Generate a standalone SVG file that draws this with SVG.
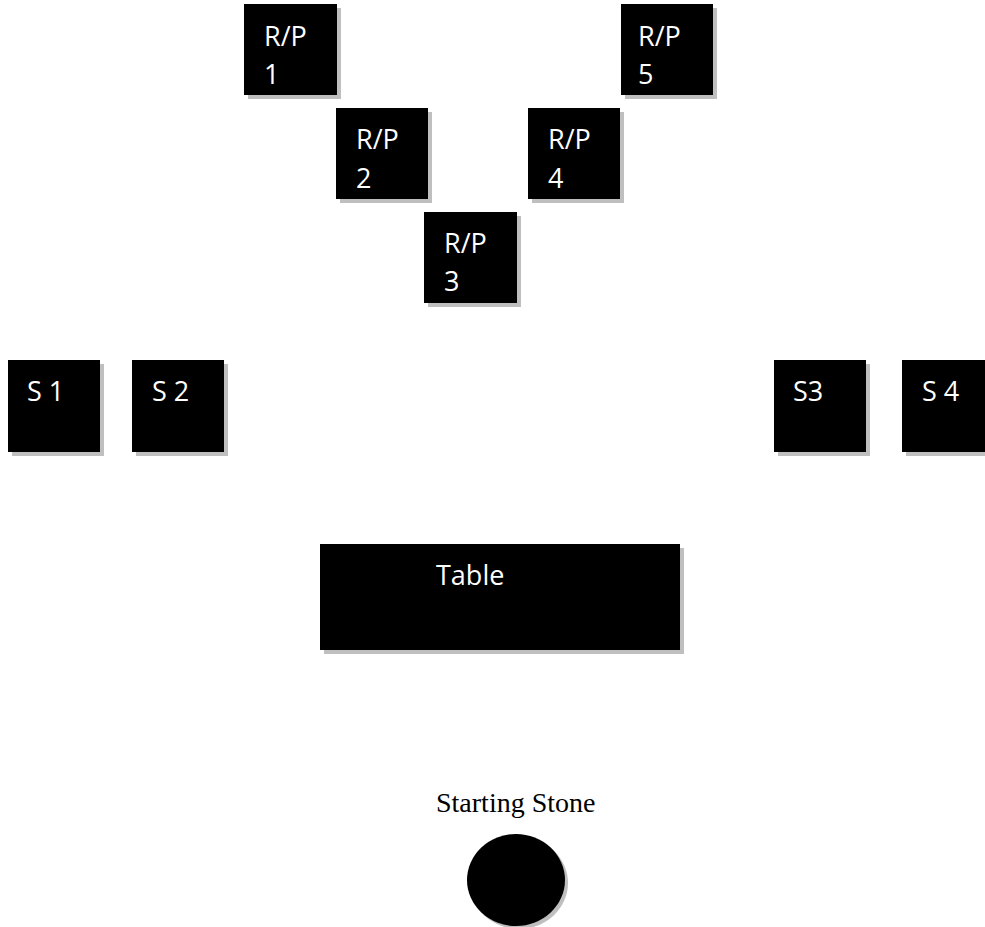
<svg xmlns="http://www.w3.org/2000/svg" width="985" height="927" viewBox="0 0 985 927">
<style>
.sh{fill:#bfbfbf}
.bx{fill:#000}
.t{font-family:"Open Sans","Liberation Sans",sans-serif;font-size:27px;fill:#fff}
.lbl{font-family:"Liberation Serif","Times New Roman",serif;font-size:28px;fill:#000}
</style>
<rect width="985" height="927" fill="#fff"/>
<g id="connectors"></g>
<g id="rp1"><rect class="sh" x="248" y="8" width="93" height="91"/><rect class="bx" x="244" y="4" width="93" height="91"/><text class="t" x="264" y="46">R/P</text><text class="t" x="264" y="84">1</text></g>
<g id="rp2"><rect class="sh" x="340" y="112" width="92" height="91"/><rect class="bx" x="336" y="108" width="92" height="91"/><text class="t" x="356" y="149">R/P</text><text class="t" x="356" y="188">2</text></g>
<g id="rp3"><rect class="sh" x="428" y="216" width="93" height="91"/><rect class="bx" x="424" y="212" width="93" height="91"/><text class="t" x="444" y="253">R/P</text><text class="t" x="444" y="291">3</text></g>
<g id="rp4"><rect class="sh" x="532" y="112" width="92" height="91"/><rect class="bx" x="528" y="108" width="92" height="91"/><text class="t" x="548" y="149">R/P</text><text class="t" x="548" y="188">4</text></g>
<g id="rp5"><rect class="sh" x="625" y="8" width="92" height="91"/><rect class="bx" x="621" y="4" width="92" height="91"/><text class="t" x="638" y="46">R/P</text><text class="t" x="638" y="84">5</text></g>
<g id="s1"><rect class="sh" x="12" y="364" width="92" height="92"/><rect class="bx" x="8" y="360" width="92" height="92"/><text class="t" x="27" y="401">S 1</text></g>
<g id="s2"><rect class="sh" x="136" y="364" width="92" height="92"/><rect class="bx" x="132" y="360" width="92" height="92"/><text class="t" x="152" y="401">S 2</text></g>
<g id="s3"><rect class="sh" x="778" y="364" width="92" height="92"/><rect class="bx" x="774" y="360" width="92" height="92"/><text class="t" x="793" y="401">S3</text></g>
<g id="s4"><rect class="sh" x="906" y="364" width="92" height="92"/><rect class="bx" x="902" y="360" width="92" height="92"/><text class="t" x="922" y="401">S 4</text></g>
<g id="table"><rect class="sh" x="324" y="548" width="360" height="106"/><rect class="bx" x="320" y="544" width="360" height="106"/><text class="t" x="436" y="585">Table</text></g>
<g id="stone"><text class="lbl" x="436" y="812">Starting Stone</text><ellipse class="sh" cx="519" cy="883" rx="49" ry="46"/><ellipse class="bx" cx="516" cy="880" rx="49" ry="46"/></g>
</svg>
